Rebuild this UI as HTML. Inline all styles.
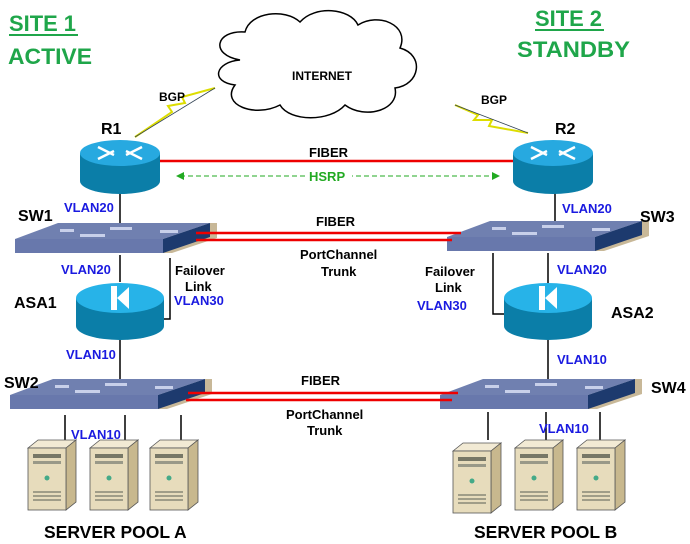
<!DOCTYPE html>
<html><head><style>
body{margin:0;background:#fff}
svg{display:block;font-family:"Liberation Sans",Arial,sans-serif;font-weight:bold}
</style></head><body>
<svg width="690" height="544" viewBox="0 0 690 544" xmlns="http://www.w3.org/2000/svg">
<defs>
<g id="router">
<path d="M-40 0 V28 A40 13 0 0 0 40 28 V0 Z" fill="#0b7ea8"/>
<ellipse cx="0" cy="0" rx="40" ry="13" fill="#27a9e0"/>
<g stroke="#fff" stroke-width="3" fill="#fff">
<path d="M-22 6 L-6 -2 M6 2 L22 -6 M-22 -6 L-6 2 M6 -2 L22 6" stroke-width="2.5"/>
</g>
</g>
<g id="asa">
<path d="M-44 0 V28 A44 14 0 0 0 44 28 V0 Z" fill="#0b7ea8"/>
<ellipse cx="0" cy="0" rx="44" ry="15" fill="#27b3e8"/>
<rect x="-9" y="-12" width="6" height="24" fill="#fff"/>
<polygon points="-3,0 9,-11 9,11" fill="#fff"/>
</g>
<g id="server">
<polygon points="0,8 10,0 48,0 38,8" fill="#f2ead4" stroke="#555" stroke-width="0.8"/>
<polygon points="38,8 48,0 48,62 38,70" fill="#c8b88e" stroke="#555" stroke-width="0.8"/>
<rect x="0" y="8" width="38" height="62" fill="#e7dcbc" stroke="#555" stroke-width="0.8"/>
<rect x="5" y="14" width="28" height="4" fill="#776"/>
<rect x="5" y="21" width="28" height="3" fill="#998"/>
<circle cx="19" cy="38" r="2.5" fill="#4a8"/>
<path d="M5 52 H33 M5 56 H33 M5 60 H33" stroke="#887" stroke-width="1.5"/>
</g>
<g id="sw">
<polygon points="25,253 172,253 217,238 217,223 210,223 165,240 25,240" fill="#c8b898"/>
<polygon points="15,239 163,239 210,223 58,223" fill="#7080b0"/>
<rect x="15" y="239" width="148" height="14" fill="#6878ac"/>
<polygon points="163,239 210,223 210,237 163,253" fill="#1d3a6e"/>
<g fill="#c8d0ea"><rect x="60" y="229" width="14" height="3"/><rect x="110" y="227" width="22" height="3"/><rect x="160" y="230" width="18" height="3"/><rect x="80" y="234" width="25" height="3"/></g>
</g>
</defs>

<!-- cloud -->
<path d="M240 60 C210 55 215 30 245 32 C250 12 285 8 300 22 C315 5 350 8 358 25 C378 12 410 25 400 48 C425 55 420 85 395 88 C400 110 365 120 345 105 C330 122 290 122 280 105 C255 118 220 105 235 85 C210 82 215 62 240 60 Z" fill="#fff" stroke="#000" stroke-width="1.5"/>
<text x="292" y="80" font-size="12">INTERNET</text>

<!-- BGP links -->
<path d="M135 137 L172 112 L168 106 L185 103 L182 97 L215 88" fill="none" stroke="#dd0" stroke-width="2"/>
<path d="M135 137 L215 88" stroke="#345" stroke-width="0.8"/>
<path d="M455 105 L478 115 L474 120 L492 120 L489 126 L528 133" fill="none" stroke="#dd0" stroke-width="2"/>
<path d="M455 105 L528 133" stroke="#345" stroke-width="0.8"/>
<text x="159" y="101" font-size="12">BGP</text>
<text x="481" y="104" font-size="12">BGP</text>

<!-- vertical lines -->
<g stroke="#000" stroke-width="1.5" fill="none">
<path d="M120 190 V226"/><path d="M120 255 V282"/><path d="M120 340 V388"/>
<path d="M555 190 V225"/><path d="M548 253 V283"/><path d="M548 340 V382"/>
<path d="M170 258 V319 H162"/><path d="M493 253 V314 H504"/>
<path d="M65 415 V440"/><path d="M125 415 V440"/><path d="M181 415 V440"/>
<path d="M488 412 V440"/><path d="M546 412 V440"/><path d="M600 412 V440"/>
</g>

<!-- routers -->
<use href="#router" x="120" y="153"/>
<use href="#router" x="553" y="153"/>
<path d="M160 161 H513" stroke="#e00" stroke-width="2.5"/>
<path d="M180 176 H495" stroke="#2a2" stroke-width="1" stroke-dasharray="5,3"/>
<polygon points="176,176 184,172 184,180" fill="#2a2"/>
<polygon points="500,176 492,172 492,180" fill="#2a2"/>
<rect x="306" y="169" width="46" height="14" fill="#fff"/>
<text x="309" y="181" font-size="13" fill="#2a2">HSRP</text>
<text x="309" y="157" font-size="13">FIBER</text>

<!-- switches -->
<use href="#sw"/>
<use href="#sw" x="432" y="-2"/>
<use href="#sw" x="-5" y="156"/>
<use href="#sw" x="425" y="156"/>

<!-- fiber double lines -->
<g stroke="#e00" stroke-width="2.5">
<path d="M196 233 H461"/><path d="M196 240 H452"/>
<path d="M188 393 H458"/><path d="M186 400 H452"/>
</g>

<!-- ASAs -->
<use href="#asa" x="120" y="298"/>
<use href="#asa" x="548" y="298"/>

<!-- servers -->
<use href="#server" x="28" y="440"/><use href="#server" x="90" y="440"/><use href="#server" x="150" y="440"/>
<use href="#server" x="453" y="443"/><use href="#server" x="515" y="440"/><use href="#server" x="577" y="440"/>

<!-- labels -->
<g font-size="22" fill="#1fa64a">
<text x="9" y="31" textLength="67" lengthAdjust="spacingAndGlyphs">SITE 1</text><rect x="9" y="34" width="69" height="2"/>
<text x="8" y="64" textLength="84" lengthAdjust="spacingAndGlyphs">ACTIVE</text>
<text x="535" y="26" textLength="67" lengthAdjust="spacingAndGlyphs">SITE 2</text><rect x="535" y="29" width="69" height="2"/>
<text x="517" y="57" textLength="113" lengthAdjust="spacingAndGlyphs">STANDBY</text>
</g>
<g font-size="16" fill="#000">
<text x="101" y="134">R1</text><text x="555" y="134">R2</text>
<text x="18" y="221">SW1</text><text x="640" y="222">SW3</text>
<text x="4" y="388">SW2</text><text x="651" y="393">SW4</text>
<text x="14" y="308">ASA1</text><text x="611" y="318">ASA2</text>
</g>
<g font-size="17.5" fill="#000">
<text x="44" y="538">SERVER POOL A</text><text x="474" y="538">SERVER POOL B</text>
</g>
<g font-size="13" fill="#1a1ae0">
<text x="64" y="212">VLAN20</text><text x="562" y="213">VLAN20</text>
<text x="61" y="274">VLAN20</text><text x="557" y="274">VLAN20</text>
<text x="174" y="305">VLAN30</text><text x="417" y="310">VLAN30</text>
<text x="66" y="359">VLAN10</text><text x="557" y="364">VLAN10</text>
<text x="71" y="439">VLAN10</text><text x="539" y="433">VLAN10</text>
</g>
<g font-size="13" fill="#000">
<text x="175" y="275">Failover</text><text x="185" y="291">Link</text>
<text x="425" y="276">Failover</text><text x="435" y="292">Link</text>
<text x="316" y="226">FIBER</text>
<text x="300" y="259">PortChannel</text><text x="321" y="276">Trunk</text>
<text x="301" y="385">FIBER</text>
<text x="286" y="419">PortChannel</text><text x="307" y="435">Trunk</text>
</g>
</svg>
</body></html>
